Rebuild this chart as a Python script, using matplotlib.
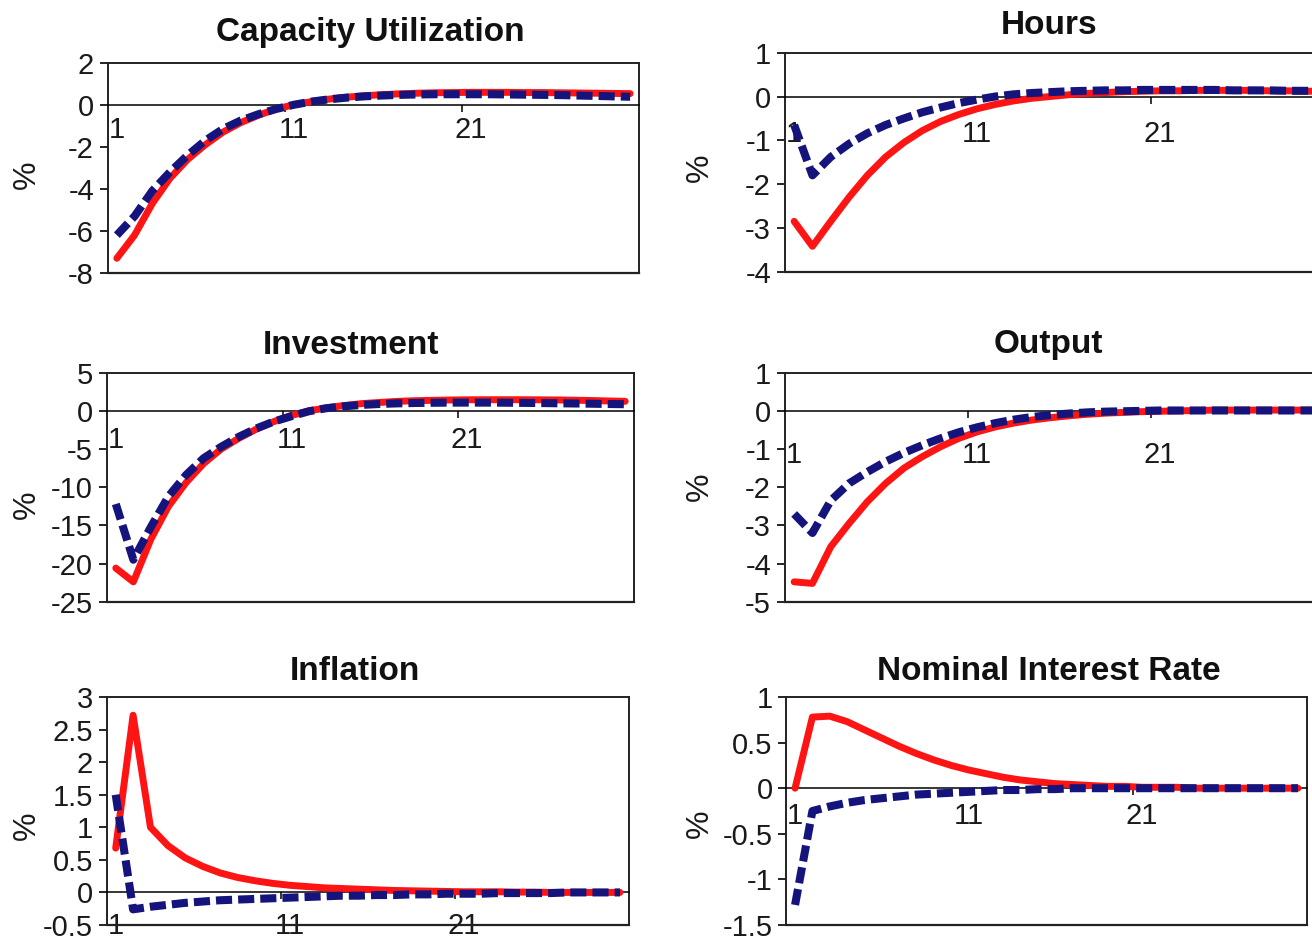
import numpy as np
import matplotlib.pyplot as plt
from matplotlib.ticker import FixedLocator, FixedFormatter, FuncFormatter, NullFormatter

plt.rcParams['font.family'] = ['Liberation Sans', 'DejaVu Sans']
plt.rcParams['axes.unicode_minus'] = False

periods = np.arange(1, 31)

titles = ['Capacity Utilization', 'Hours', 'Investment', 'Output',
          'Inflation', 'Nominal Interest Rate']

cap_red = [-7.3, -6.2, -4.7, -3.5, -2.6, -1.9, -1.3, -0.85, -0.5, -0.2,
           0.0, 0.15, 0.27, 0.36, 0.43, 0.48, 0.52, 0.55, 0.57, 0.58,
           0.59, 0.59, 0.59, 0.58, 0.58, 0.57, 0.56, 0.55, 0.54, 0.53]
cap_blue = [-6.2, -5.3, -4.1, -3.2, -2.4, -1.7, -1.15, -0.75, -0.45, -0.2,
            0.0, 0.15, 0.26, 0.34, 0.4, 0.44, 0.47, 0.49, 0.5, 0.5,
            0.5, 0.5, 0.49, 0.48, 0.47, 0.46, 0.44, 0.42, 0.4, 0.38]

hours_red = [-2.85, -3.42, -2.85, -2.3, -1.8, -1.38, -1.05, -0.78, -0.57, -0.41,
             -0.28, -0.18, -0.1, -0.04, 0.0, 0.04, 0.07, 0.09, 0.11, 0.12,
             0.13, 0.13, 0.14, 0.14, 0.14, 0.14, 0.13, 0.13, 0.12, 0.12]
hours_blue = [-0.65, -1.8, -1.38, -1.08, -0.84, -0.65, -0.5, -0.36, -0.25, -0.15,
              -0.07, 0.0, 0.05, 0.08, 0.1, 0.12, 0.13, 0.14, 0.14, 0.15,
              0.15, 0.15, 0.15, 0.15, 0.14, 0.14, 0.14, 0.13, 0.13, 0.13]

inv_red = [-20.6, -22.4, -16.8, -12.5, -9.4, -6.9, -5.0, -3.6, -2.4, -1.4,
           -0.6, 0.0, 0.4, 0.7, 0.95, 1.1, 1.24, 1.33, 1.38, 1.42,
           1.45, 1.46, 1.46, 1.46, 1.45, 1.43, 1.4, 1.36, 1.3, 1.25]
inv_blue = [-12.2, -19.5, -15.2, -11.2, -8.4, -6.2, -4.7, -3.4, -2.3, -1.4,
            -0.7, -0.05, 0.35, 0.6, 0.78, 0.9, 0.98, 1.03, 1.06, 1.08,
            1.08, 1.08, 1.07, 1.05, 1.03, 1.0, 0.97, 0.94, 0.9, 0.87]

out_red = [-4.48, -4.52, -3.56, -2.95, -2.38, -1.9, -1.5, -1.2, -0.94, -0.72,
           -0.55, -0.42, -0.32, -0.24, -0.18, -0.13, -0.09, -0.06, -0.04, -0.02,
           -0.01, 0.0, 0.01, 0.02, 0.02, 0.02, 0.02, 0.02, 0.02, 0.02]
out_blue = [-2.7, -3.2, -2.35, -1.9, -1.6, -1.33, -1.1, -0.9, -0.72, -0.56,
            -0.43, -0.32, -0.23, -0.16, -0.11, -0.07, -0.04, -0.02, -0.01, 0.0,
            0.01, 0.01, 0.01, 0.01, 0.01, 0.01, 0.01, 0.01, 0.01, 0.01]

infl_red = [0.68, 2.72, 1.0, 0.72, 0.53, 0.4, 0.3, 0.23, 0.18, 0.14,
            0.11, 0.09, 0.07, 0.06, 0.05, 0.04, 0.03, 0.025, 0.02, 0.015,
            0.01, 0.01, 0.01, 0.005, 0.005, 0.0, 0.0, 0.0, 0.0, 0.0]
infl_blue = [1.5, -0.26, -0.22, -0.19, -0.16, -0.14, -0.12, -0.11, -0.1, -0.09,
             -0.08, -0.07, -0.06, -0.05, -0.05, -0.04, -0.04, -0.03, -0.03, -0.02,
             -0.02, -0.02, -0.01, -0.01, -0.01, -0.01, 0.0, 0.0, 0.0, 0.0]

nom_red = [0.0, 0.78, 0.79, 0.73, 0.64, 0.55, 0.46, 0.38, 0.31, 0.25,
           0.2, 0.16, 0.12, 0.09, 0.07, 0.05, 0.04, 0.03, 0.02, 0.02,
           0.01, 0.01, 0.01, 0.0, 0.0, 0.0, 0.0, 0.0, 0.0, 0.0]
nom_blue = [-1.28, -0.25, -0.2, -0.16, -0.13, -0.11, -0.09, -0.07, -0.06, -0.05,
            -0.04, -0.03, -0.02, -0.02, -0.01, -0.01, 0.0, 0.0, 0.0, 0.0,
            0.0, 0.0, 0.0, 0.0, 0.0, 0.0, 0.0, 0.0, 0.0, 0.0]

red_series = [cap_red, hours_red, inv_red, out_red, infl_red, nom_red]
blue_series = [cap_blue, hours_blue, inv_blue, out_blue, infl_blue, nom_blue]

y_ranges = [(-8, 2, 2), (-4, 1, 1), (-25, 5, 5), (-5, 1, 1), (-0.5, 3, 0.5), (-1.5, 1, 0.5)]
x_labels = ['1', '11', '21']

W, H = 1312, 942
# pixel boxes: left, right, top, bottom
boxes = [(108, 639, 62.7, 273), (785, 1334, 52.7, 271.7),
         (107, 634, 372.7, 601.7), (785, 1334, 372.7, 601.7),
         (107, 628.7, 697, 925), (786.4, 1306.7, 697, 925)]
title_pos = [(370, 32), (1049, 25), (351, 346), (1048, 345), (355, 671), (1049, 671)]
pct_pos = [(27, 175), (700, 168), (27, 505), (700, 487), (27, 826), (700, 824)]
label_pad = [8, 17, 11, 22, 14, 10]

RED = '#ff1414'
BLUE = '#14147c'
TXT = '#1a1a1a'

fig = plt.figure(figsize=(W / 100, H / 100), dpi=100)

for i in range(6):
    l, r, t, b = boxes[i]
    ax = fig.add_axes([l / W, 1 - b / H, (r - l) / W, (b - t) / H])
    ax.plot(periods, red_series[i], color=RED, lw=5, solid_capstyle='round',
            solid_joinstyle='round', zorder=3, clip_on=False)
    ax.plot(periods, blue_series[i], color=BLUE, lw=5.8, linestyle=(0, (2.0, 0.75)),
            dash_capstyle='butt', zorder=4, clip_on=False)

    lo, hi, step = y_ranges[i]
    ax.set_xlim(0.5, 30.5)
    ax.set_ylim(lo, hi)
    ax.set_yticks(np.arange(lo, hi + step / 2, step))
    ax.yaxis.set_major_formatter(FuncFormatter(lambda v, p: '%g' % v))
    ax.tick_params(axis='y', direction='out', length=6, width=1.2, pad=4,
                   labelsize=21, labelcolor=TXT)

    # x axis sits on the zero line, labels on periods 1, 11, 21
    ax.spines['bottom'].set_position(('data', 0))
    ax.spines['bottom'].set_linewidth(1.1)
    for s in ['top', 'left', 'right']:
        ax.spines[s].set_linewidth(1.4)
        ax.spines[s].set_color('#222222')
    ax.plot([0, 1], [0, 0], transform=ax.transAxes, color='#222222', lw=1.6,
            clip_on=False, zorder=2)
    ax.xaxis.set_major_locator(FixedLocator([10.5, 20.5]))
    ax.xaxis.set_major_formatter(NullFormatter())
    ax.xaxis.set_minor_locator(FixedLocator([1, 11, 21]))
    ax.xaxis.set_minor_formatter(FixedFormatter(x_labels))
    ax.tick_params(axis='x', which='major', direction='out', length=5, width=1.1)
    ax.tick_params(axis='x', which='minor', length=0, pad=label_pad[i],
                   labelsize=21, labelcolor=TXT)

    fig.text(title_pos[i][0] / W, 1 - title_pos[i][1] / H, titles[i],
             ha='center', va='center', fontsize=24, fontweight='bold', color='#111111')
    fig.text(pct_pos[i][0] / W, 1 - pct_pos[i][1] / H, '%', rotation=90,
             ha='center', va='center', fontsize=23, color=TXT)

fig.savefig('out.png', dpi=100)
